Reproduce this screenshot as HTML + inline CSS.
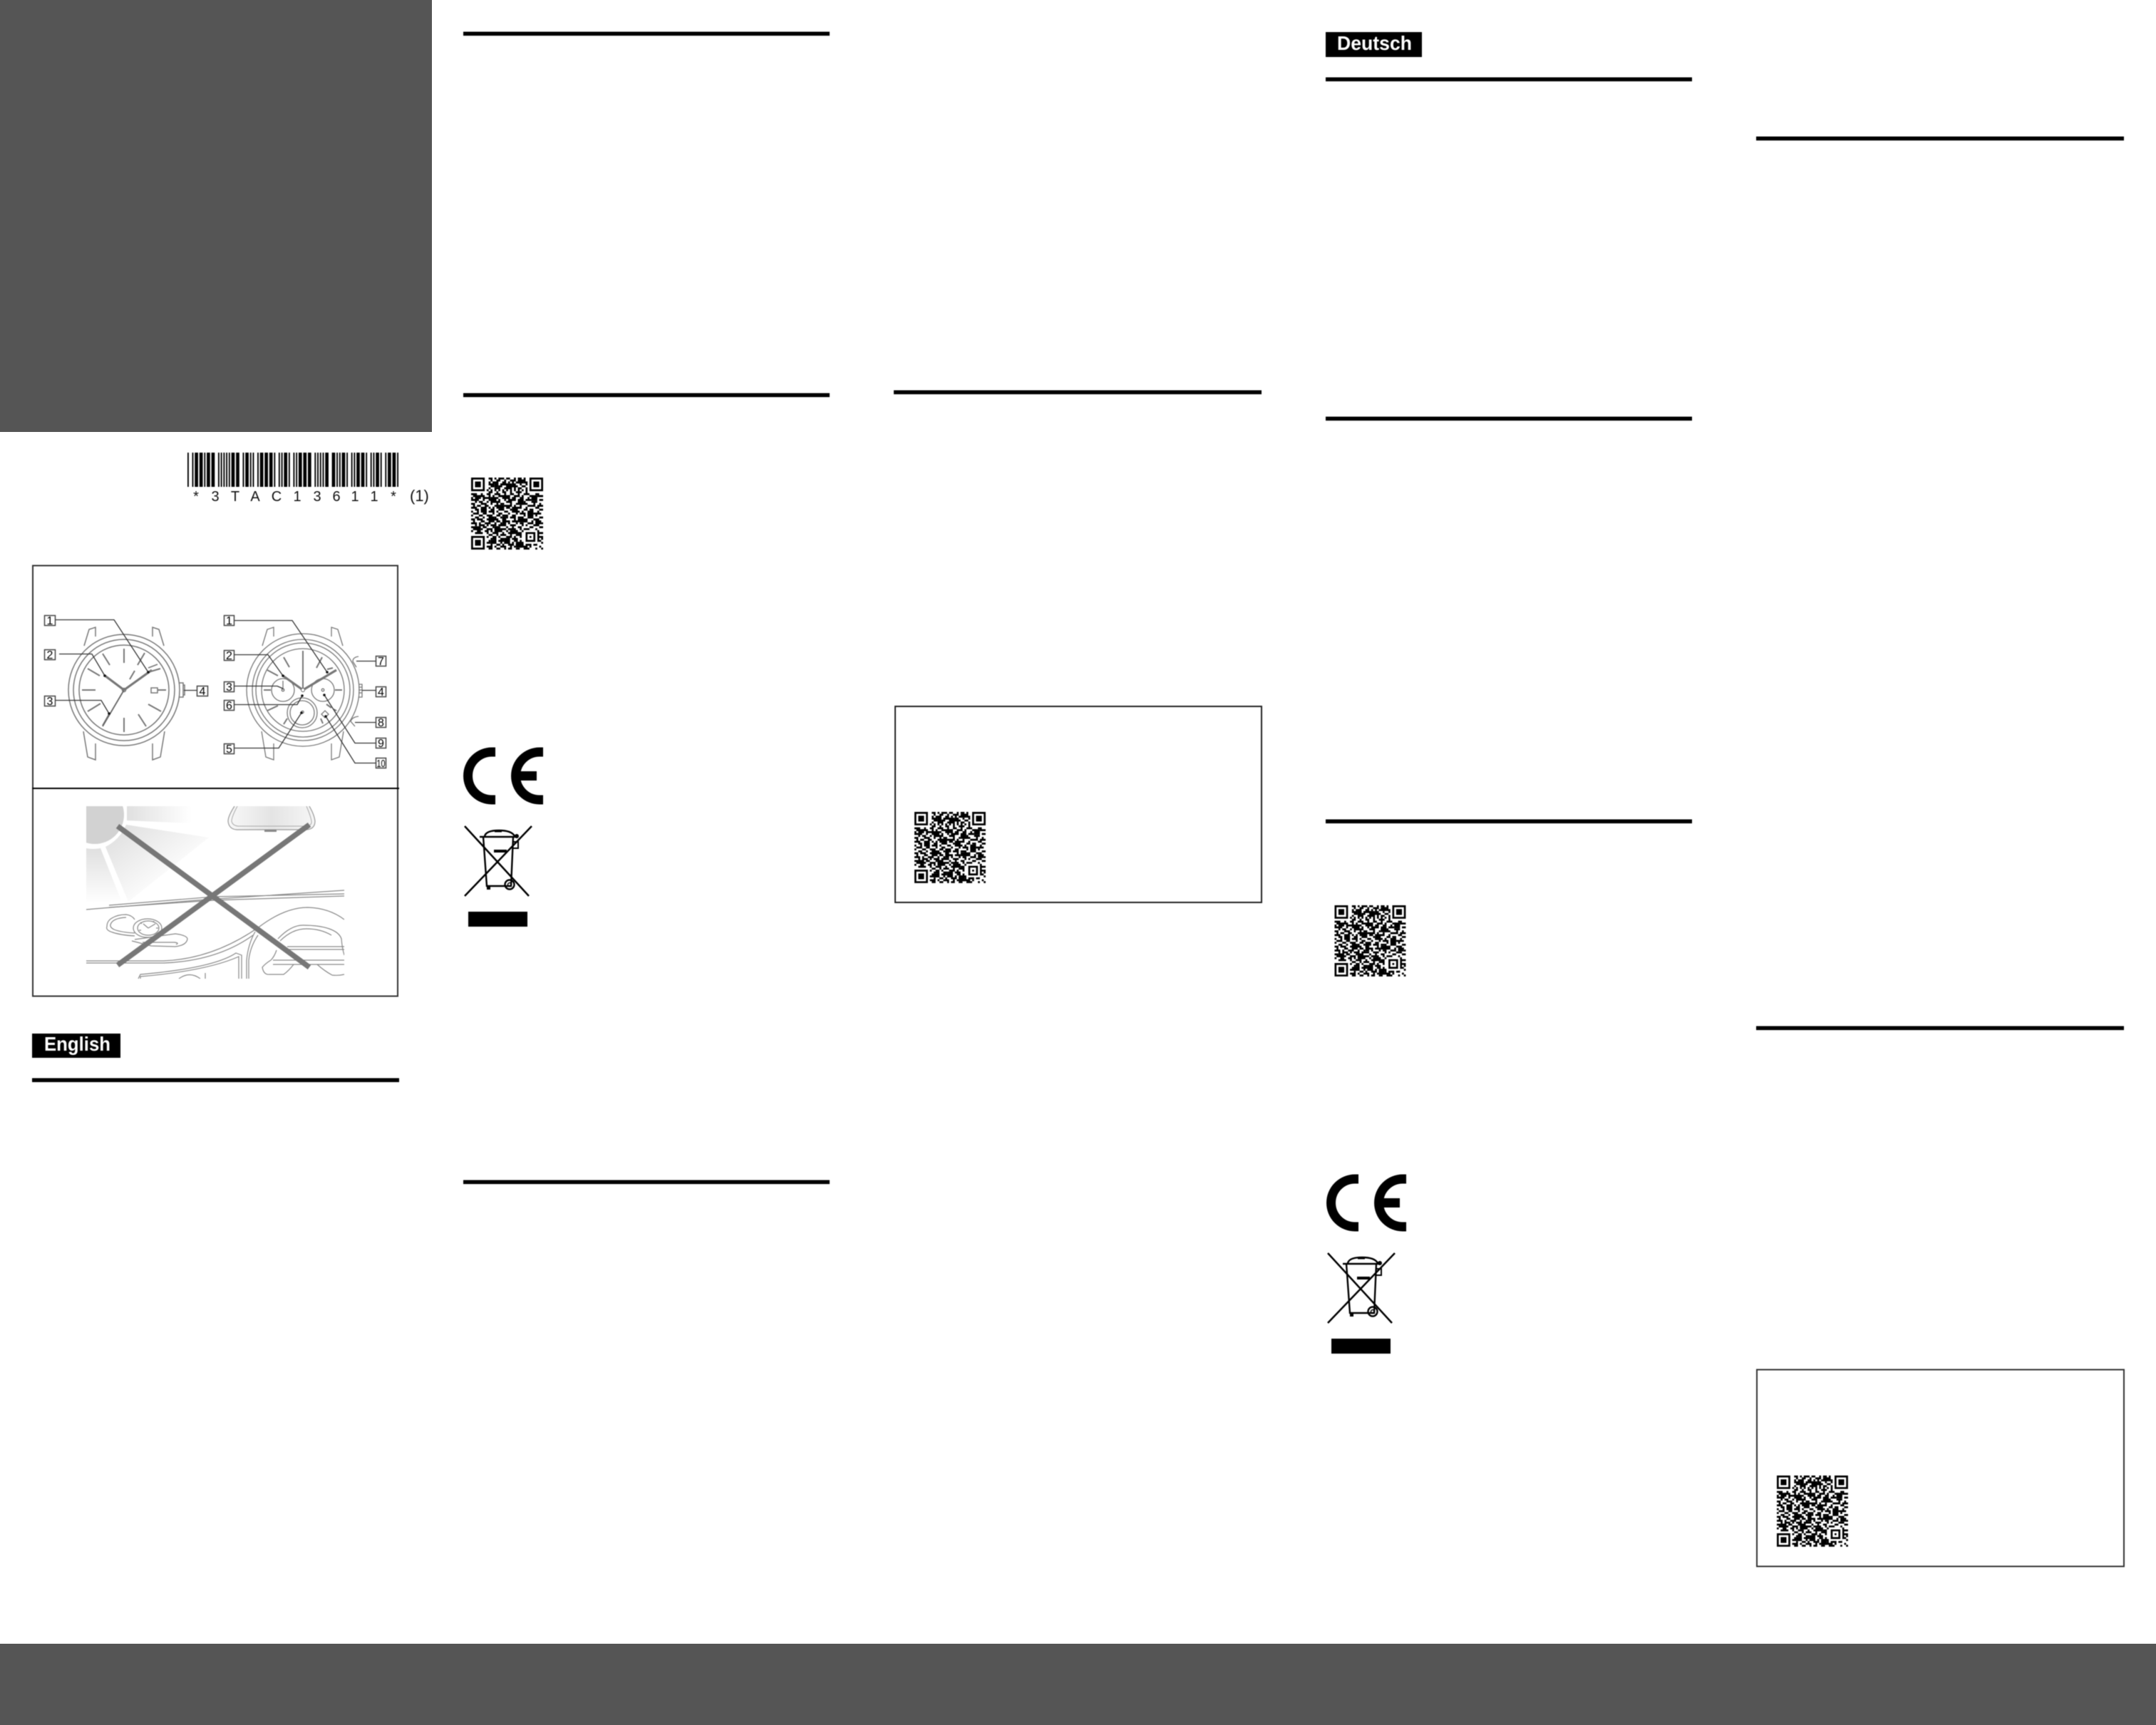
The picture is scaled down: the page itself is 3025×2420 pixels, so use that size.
<!DOCTYPE html>
<html lang="en"><head><meta charset="utf-8"><title>Watch instruction sheet</title>
<style>html,body{margin:0;padding:0;background:#fff}svg{display:block}.soft{filter:blur(.6px)}text{font-family:"Liberation Sans",sans-serif}</style></head>
<body>
<svg xmlns="http://www.w3.org/2000/svg" width="3025" height="2420" viewBox="0 0 3025 2420">
<defs>
<linearGradient id="g1" x1="0" x2="1" y1="0" y2="0"><stop offset="0" stop-color="#e0e0e0"/><stop offset="1" stop-color="#fff"/></linearGradient>
<linearGradient id="g2" x1="0" x2="1" y1="0" y2="1"><stop offset="0" stop-color="#dcdcdc"/><stop offset=".7" stop-color="#fff"/></linearGradient>
<linearGradient id="g3" x1="0" x2="0" y1="0" y2="1"><stop offset="0" stop-color="#e0e0e0"/><stop offset="1" stop-color="#fff"/></linearGradient>
<linearGradient id="g4" x1="0" x2="1" y1="0" y2="0"><stop offset="0" stop-color="#f8f8f8"/><stop offset=".5" stop-color="#e4e4e4"/><stop offset="1" stop-color="#f6f6f6"/></linearGradient>
<g id="qr">
<path fill="none" stroke="#000" stroke-width="1" d="M.5 .5h6v6h-6zM30.5 .5h6v6h-6zM.5 30.5h6v6h-6z"/>
<path d="M2 2h3v3h-3zM32 2h3v3h-3zM2 32h3v3h-3z"/>
<path fill="none" stroke="#000" stroke-width="1.02" d="M9 .5h2M12 .5h1M14 .5h3M18 .5h2M22 .5h1M24 .5h2M27 .5h1
M10 1.5h1M13 1.5h2M17 1.5h1M20 1.5h3M25 1.5h3
M9 2.5h1M11 2.5h3M16 2.5h2M19 2.5h1M21 2.5h1M23 2.5h2M27 2.5h2
M9 3.5h3M13 3.5h1M15 3.5h4M21 3.5h2M25 3.5h1M28 3.5h1
M10 4.5h2M14 4.5h2M18 4.5h1M20 4.5h4M26 4.5h2
M9 5.5h1M12 5.5h3M17 5.5h2M22 5.5h1M24 5.5h2M28 5.5h1
M8 6.5h1M10 6.5h1M12 6.5h1M14 6.5h1M16 6.5h1M18 6.5h1M20 6.5h1M22 6.5h1M24 6.5h1M26 6.5h1M28 6.5h1
M9 7.5h2M13 7.5h1M16 7.5h2M20 7.5h1M23 7.5h3M28 7.5h1
M0 8.5h3M5 8.5h1M8 8.5h2M12 8.5h3M17 8.5h1M20 8.5h2M24 8.5h1M27 8.5h3M33 8.5h2
M1 9.5h2M4 9.5h3M9 9.5h1M11 9.5h1M14 9.5h4M19 9.5h1M22 9.5h3M26 9.5h1M30 9.5h2M34 9.5h3
M0 10.5h1M3 10.5h2M6 10.5h4M13 10.5h1M16 10.5h2M21 10.5h2M25 10.5h2M29 10.5h1M32 10.5h2
M0 11.5h4M6 11.5h1M9 11.5h3M14 11.5h1M17 11.5h1M19 11.5h4M25 11.5h1M28 11.5h3M35 11.5h2
M2 12.5h1M4 12.5h2M8 12.5h1M11 12.5h4M18 12.5h3M24 12.5h2M27 12.5h1M31 12.5h3
M0 13.5h2M5 13.5h3M10 13.5h1M13 13.5h1M15 13.5h2M20 13.5h1M23 13.5h1M26 13.5h3M32 13.5h1M35 13.5h1
M1 14.5h1M3 14.5h2M7 14.5h2M12 14.5h3M17 14.5h4M22 14.5h1M25 14.5h1M29 14.5h4M34 14.5h3
M0 15.5h3M6 15.5h1M9 15.5h1M11 15.5h1M15 15.5h1M18 15.5h2M23 15.5h3M28 15.5h1M33 15.5h2
M2 16.5h2M5 16.5h3M10 16.5h2M14 16.5h3M20 16.5h1M22 16.5h1M27 16.5h2M30 16.5h2M35 16.5h2
M0 17.5h1M3 17.5h1M7 17.5h1M9 17.5h3M13 17.5h1M17 17.5h2M21 17.5h4M26 17.5h1M31 17.5h1M34 17.5h1
M1 18.5h3M6 18.5h2M11 18.5h1M14 18.5h2M19 18.5h1M23 18.5h1M25 18.5h3M29 18.5h2M32 18.5h4
M0 19.5h1M4 19.5h2M8 19.5h3M13 19.5h2M16 19.5h3M21 19.5h2M27 19.5h1M30 19.5h1M33 19.5h1
M2 20.5h2M6 20.5h1M9 20.5h1M12 20.5h1M15 20.5h1M18 20.5h1M20 20.5h3M24 20.5h3M29 20.5h3M35 20.5h2
M0 21.5h2M3 21.5h3M8 21.5h2M11 21.5h3M16 21.5h2M22 21.5h1M26 21.5h1M28 21.5h1M32 21.5h3
M1 22.5h1M5 22.5h2M9 22.5h1M13 22.5h2M17 22.5h3M21 22.5h3M27 22.5h2M31 22.5h1M34 22.5h2
M0 23.5h3M4 23.5h1M7 23.5h3M12 23.5h1M15 23.5h1M19 23.5h1M23 23.5h1M25 23.5h2M29 23.5h3M36 23.5h1
M2 24.5h1M4 24.5h3M8 24.5h1M10 24.5h3M14 24.5h4M20 24.5h3M26 24.5h1M28 24.5h1M32 24.5h3
M0 25.5h2M6 25.5h2M11 25.5h1M13 25.5h1M18 25.5h1M21 25.5h1M24 25.5h2M30 25.5h2M35 25.5h2
M1 26.5h3M5 26.5h1M8 26.5h3M12 26.5h1M15 26.5h3M19 26.5h4M25 26.5h1M27 26.5h3M33 26.5h1
M0 27.5h1M3 27.5h2M7 27.5h2M10 27.5h1M14 27.5h2M18 27.5h1M22 27.5h2M26 27.5h1M30 27.5h1M32 27.5h3
M2 28.5h4M8 28.5h1M11 28.5h3M16 28.5h1M19 28.5h3M24 28.5h2M34 28.5h3
M9 29.5h2M13 29.5h1M15 29.5h3M20 29.5h1M23 29.5h3M34 29.5h1
M8 30.5h1M11 30.5h2M14 30.5h1M18 30.5h3M22 30.5h1M25 30.5h1M34 30.5h3
M10 31.5h3M15 31.5h2M19 31.5h1M21 31.5h3M34 31.5h1M36 31.5h1
M9 32.5h1M12 32.5h1M14 32.5h3M18 32.5h2M22 32.5h2M25 32.5h1M34 32.5h2
M8 33.5h2M11 33.5h2M15 33.5h1M17 33.5h3M21 33.5h1M24 33.5h3M29 33.5h2M33 33.5h1M36 33.5h1
M10 34.5h1M13 34.5h2M16 34.5h1M19 34.5h3M23 34.5h2M26 34.5h1M28 34.5h3M32 34.5h2
M8 35.5h3M12 35.5h1M15 35.5h3M20 35.5h1M22 35.5h1M25 35.5h4M30 35.5h1M35 35.5h1
M9 36.5h2M13 36.5h2M17 36.5h1M19 36.5h2M23 36.5h2M27 36.5h3M33 36.5h1M36 36.5h1"/>
<path d="M12 2h2v3h-2zM18 3h3v3h-3zM24 1h3v2h-3zM2 9h3v2h-3zM10 10h3v3h-3zM17 9h3v2h-3zM24 11h3v3h-3zM31 9h3v3h-3zM5 15h3v3h-3zM13 14h4v2h-4zM21 15h3v3h-3zM29 17h3v3h-3zM9 20h3v3h-3zM16 20h2v4h-2zM24 21h4v2h-4zM33 22h3v2h-3zM2 25h3v2h-3zM12 25h3v3h-3zM20 27h4v2h-4zM10 32h3v2h-3zM17 31h3v3h-3zM23 33h3v3h-3z"/>
<path fill="#fff" d="M27 27h7v7h-7z"/>
<path fill="none" stroke="#000" d="M28.5 28.5h4v4h-4z"/><path d="M30 30h1v1h-1z"/>
</g>
<clipPath id="pic"><rect x="121" y="1131" width="362" height="242"/></clipPath>
</defs>

<!-- solid panels -->
<rect x="0" y="0" width="606" height="606" fill="#555"/>
<rect x="0" y="2306" width="3025" height="114" fill="#555"/>

<g class="soft">
<!-- barcode -->
<line transform="translate(263,659) scale(1.8675,1)" x1="0" y1="0" x2="158.5" y2="0" stroke="#000" stroke-width="48"
 stroke-dasharray="1 2.5 1 1 2.5 1 2.5 1 1 1 2.5 1 2.5 2.5 1 1 1 1 1 1 1 1 1 1 2.5 1 2.5 2.5 1 1 2.5 1 1 1 1 2.5 1 1 2.5 1 2.5 1 2.5 1 1 2.5 1 1 1 1 2.5 1 1 2.5 1 1 1 1 2.5 1 2.5 1 2.5 2.5 1 1 1 1 1 1 1 1 2.5 2.5 2.5 1 1 1 1 1 2.5 1 1 2.5 1 1 1 1 2.5 1 2.5 1 1 2.5 1 1 1 1 2.5 1 1 2.5 1 1 2.5 1 2.5 1 1 100"/>
<g font-size="20" text-anchor="middle" fill="#111">
<text x="275" y="703">*</text><text x="302" y="703">3</text><text x="330" y="703">T</text><text x="358" y="703">A</text><text x="388" y="703">C</text><text x="417" y="703">1</text><text x="445" y="703">3</text><text x="472" y="703">6</text><text x="498" y="703">1</text><text x="525" y="703">1</text><text x="552" y="703">*</text>
</g>
<text x="575" y="703" font-size="22" fill="#111">(1)</text>

<!-- diagram frame -->
<rect x="46" y="793.5" width="512" height="604" fill="none" stroke="#333" stroke-width="2"/>
<line x1="45" y1="1106" x2="560" y2="1106" stroke="#000" stroke-width="2"/>

<!-- left watch -->
<g fill="none" stroke="#777" stroke-width="1.5">
<circle cx="174" cy="968" r="78"/><circle cx="174" cy="968" r="71"/><circle cx="174" cy="968" r="63"/>
<path d="M118 906 L125 883 L134 880 V893M230 906 L223 883 L214 880 V893M117 1026 L123 1062 L134 1066 V1043M231 1026 L225 1062 L214 1066 V1043"/>
<path d="M252 958h5v20h-5M257 961h2v14h-2"/>
<rect x="212" y="965" width="9" height="7"/>
<circle cx="174" cy="968" r="2.5"/>
</g>
<g stroke="#777" stroke-width="2" fill="none">
<path d="M174 910V930M174 1007V1027M115 968H134M221 968H233M193 933L203 916M208 943L225 938M208 988L226 998M194 1002L205 1019M144 1018L153 1002M123 998L141 987M123 938L140 948M144 917L154 933M182 953L189 941"/>
</g>
<path d="M174 968L144 1019" stroke="#666" stroke-width="1.8" fill="none"/>
<path d="M174 968L146 947M174 968L213 940" stroke="#777" stroke-width="3.2" fill="none"/>
<path d="M208 937L221 932" stroke="#777" stroke-width="1.6" fill="none"/>

<!-- right watch -->
<g fill="none" stroke="#777" stroke-width="1.3">
<circle cx="425" cy="968" r="79"/><circle cx="425" cy="968" r="71"/><circle cx="425" cy="968" r="66"/><circle cx="425" cy="968" r="58"/>
<circle cx="397" cy="968" r="16"/><circle cx="453" cy="968" r="16"/>
<circle cx="424" cy="1000" r="21"/><circle cx="424" cy="1000" r="17"/><circle cx="424.5" cy="999" r="1.6"/><circle cx="397" cy="968" r="1.8"/><circle cx="453" cy="968" r="1.8"/>
<path d="M368 906 L375 883 L384 880 V893M481 906 L474 883 L465 880 V893M367 1026 L373 1062 L384 1066 V1043M482 1026 L476 1062 L465 1066 V1043"/>
<path d="M503 960h5v18h-5M503 964h5M503 968h5M503 972h5"/>
<path d="M503 921Q495 922 495 928L500 936M503 1005Q494 1006 492 1012L498 1019"/>
<path d="M451 1002l5-5 5 5-5 5z"/>
<path d="M397 955V968"/>
</g>
<g stroke="#777" stroke-width="2" fill="none"><path d="M398 922L406 936M375 940L390 948M370 968H380M375 997L390 990M398 1016L403 1008M444 937L452 922M470 968H480M458 988L465 993M468 995L472 997M450 1008L453 1015"/></g>
<path d="M425 968V913" stroke="#777" stroke-width="2" fill="none"/>
<path d="M425 968L397 948M425 968L472 940" stroke="#777" stroke-width="3.2" fill="none"/>
<path d="M459 939L467 937" stroke="#777" stroke-width="2" fill="none"/>
<circle cx="425" cy="968" r="2.5" fill="#fff" stroke="#666"/>

<!-- leaders -->
<g fill="none" stroke="#333" stroke-width="1.3">
<path d="M78 869.5H160L208 943M83 917.5H129L147 948M78 982.5H142L153 1001M258 968.5H276"/>
<path d="M328 870.5H410L459 943M328 918.5H376L397 948M328 962.5H389L397 966M328 988.5H417L424 976M328 1049.5H391L423 1000M500 927.5H527M508 968.5H527M498 1013.5H527M527 1042.5H498L455 975M527 1070.5H498L457 1005"/>
</g>
<g fill="#111"><circle cx="208" cy="943" r="1.8"/><circle cx="147" cy="948" r="1.8"/><circle cx="153" cy="1001" r="1.8"/><circle cx="459" cy="943" r="1.8"/><circle cx="397" cy="948" r="1.8"/><circle cx="424" cy="976" r="1.8"/><circle cx="423" cy="1000" r="1.8"/><circle cx="455" cy="975" r="1.8"/><circle cx="457" cy="1005" r="1.8"/></g>
<g fill="#fff" stroke="#444" stroke-width="1.5">
<rect x="62.5" y="863.5" width="15" height="14"/><rect x="62.5" y="911.5" width="15" height="14"/><rect x="62.5" y="976.5" width="15" height="14"/><rect x="276.5" y="962.5" width="15" height="14"/>
<rect x="314.5" y="863.5" width="14" height="14"/><rect x="314.5" y="912.5" width="14" height="14"/><rect x="314.5" y="956.5" width="14" height="14"/><rect x="314.5" y="982.5" width="14" height="14"/><rect x="314.5" y="1043.5" width="14" height="14"/>
<rect x="527.5" y="920.5" width="14" height="14"/><rect x="527.5" y="963.5" width="14" height="14"/><rect x="527.5" y="1006.5" width="14" height="14"/><rect x="527.5" y="1035.5" width="14" height="14"/><rect x="527.5" y="1063.5" width="14" height="14"/>
</g>
<g font-size="16" text-anchor="middle" fill="#000">
<text x="70" y="876">1</text><text x="70" y="924">2</text><text x="70" y="989">3</text><text x="284" y="975">4</text>
<text x="321.5" y="876">1</text><text x="321.5" y="925">2</text><text x="321.5" y="969">3</text><text x="321.5" y="995">6</text><text x="321.5" y="1056">5</text>
<text x="534.5" y="933">7</text><text x="534.5" y="976">4</text><text x="534.5" y="1019">8</text><text x="534.5" y="1048">9</text><text x="534.5" y="1076" font-size="15" textLength="12" lengthAdjust="spacingAndGlyphs">10</text>
</g>

<!-- sun / car picture -->
<g clip-path="url(#pic)">
<path d="M178 1131V1151L268 1155V1131Z" fill="url(#g1)"/>
<path d="M177 1157L293 1175L180 1265L148 1188Q168 1178 177 1157Z" fill="url(#g2)"/>
<path d="M121 1190Q130 1192 141 1190L170 1263L121 1267Z" fill="url(#g3)"/>
<circle cx="133" cy="1143" r="41" fill="#d2d2d2"/>
<path d="M329 1131Q320 1145 320 1152Q321 1163 332 1164H430Q442 1163 442 1152Q441 1143 434 1131" fill="url(#g4)" stroke="#999" stroke-width="1.2"/>
<path d="M333 1131Q325 1146 325 1152Q326 1158 334 1159H430Q438 1158 437 1152Q436 1145 430 1131" fill="none" stroke="#aaa" stroke-width="1"/>
<rect x="371" y="1164" width="17" height="3" fill="#888"/>
<g fill="none" stroke="#888" stroke-width="1.2">
<path d="M121 1276L276 1263L483 1249"/>
<path d="M153 1270L300 1258L483 1254"/>
<path d="M153 1273L300 1263L483 1257"/>
<path d="M121 1348H230Q300 1345 364 1300Q400 1273 432 1273Q462 1274 483 1290"/>
<path d="M121 1351H230Q305 1348 355 1312"/>
<path d="M194 1373L197 1367Q300 1358 331 1337L339 1340V1373"/>
<path d="M197 1373V1370Q290 1362 335 1342V1373"/>
<path d="M251 1373Q266 1362 281 1373M288 1373V1365"/>
<path d="M346 1373V1347Q348 1325 358 1307M349 1373V1347Q351 1328 362 1312"/>
<path d="M390 1317Q408 1298 425 1298Q448 1298 462 1303Q476 1308 479 1317Q480 1330 483 1340M393 1320Q410 1303 430 1303Q450 1303 465 1312"/>
<path d="M388 1333Q385 1342 380 1347Q372 1352 368 1357Q370 1368 378 1367L398 1367Q405 1362 412 1353"/>
<path d="M403 1328H483M403 1332H483M383 1347H483M383 1353H483"/>
<path d="M445 1353Q455 1362 466 1368Q475 1369 483 1367"/>
<path d="M189 1313Q170 1312 158 1308Q148 1305 150 1300Q150 1292 157 1288Q165 1283 177 1283Q185 1284 189 1290M189 1309Q170 1308 160 1304Q154 1301 155 1297Q158 1288 177 1287"/>
<ellipse cx="207" cy="1302" rx="20" ry="13"/><ellipse cx="208" cy="1302" rx="15" ry="10"/>
<path d="M189 1318L246 1310Q262 1312 263 1317Q262 1326 246 1328L212 1327L185 1320M200 1322H245Q252 1323 247 1325"/>
<path d="M208 1302L201 1296M208 1302L218 1296M197 1294l2 2M216 1292l-1 2M222 1302h-3M195 1305h3"/>
</g>
</g>
<path d="M165 1159L434 1357M434 1157L165 1354" stroke="#777" stroke-width="7.5" fill="none"/>

<!-- language tabs -->
<rect x="45" y="1450" width="124" height="34" fill="#000"/>
<text x="62" y="1474" font-size="28" font-weight="700" fill="#fff" textLength="93" lengthAdjust="spacingAndGlyphs">English</text>
<rect x="1860" y="45" width="135" height="35" fill="#000"/>
<text x="1876" y="70" font-size="28" font-weight="700" fill="#fff" textLength="105" lengthAdjust="spacingAndGlyphs">Deutsch</text>

<!-- rules -->
<g fill="#000">
<rect x="45" y="1512.5" width="515" height="5.6"/>
<rect x="650" y="44.5" width="514" height="5.6"/>
<rect x="650" y="551.5" width="514" height="5.6"/>
<rect x="650" y="1655.5" width="514" height="5.6"/>
<rect x="1254" y="547.5" width="516" height="5.6"/>
<rect x="1860" y="108.5" width="514" height="5.6"/>
<rect x="1860" y="584.5" width="514" height="5.6"/>
<rect x="1860" y="1149.5" width="514" height="5.6"/>
<rect x="2464" y="191.5" width="516" height="5.6"/>
<rect x="2464" y="1439.5" width="516" height="5.6"/>
</g>

<!-- framed boxes -->
<rect x="1256" y="991" width="514" height="275" fill="none" stroke="#222" stroke-width="2"/>
<rect x="2465" y="1921.5" width="515" height="276" fill="none" stroke="#333" stroke-width="2"/>

<!-- QR codes -->
<use href="#qr" transform="translate(661,670) scale(2.73)"/>
<use href="#qr" transform="translate(1283,1139) scale(2.70)"/>
<use href="#qr" transform="translate(1872.5,1270) scale(2.70)"/>
<use href="#qr" transform="translate(2493,2070) scale(2.70)"/>

<!-- CE + WEEE, column 2 -->
<g>
<path d="M695 1055H690A33.5 33.5 0 0 0 690 1122H695M762 1055H757A33.5 33.5 0 0 0 757 1122H762" fill="none" stroke="#000" stroke-width="13"/>
<rect x="722" y="1082" width="31" height="13" fill="#000"/>
<g fill="none" stroke="#000">
<path d="M652 1159L742 1257M746 1159L652 1257" stroke-width="2.5"/>
<path d="M678 1174L683 1243H717L720 1174" stroke-width="2.4"/>
<path d="M673 1174H725M680 1173Q682 1165 700 1165Q718 1165 722 1173" stroke-width="2.4"/>
<path d="M694 1166h10" stroke-width="3"/>
<path d="M720 1181H727V1190H719" stroke-width="2"/>
<circle cx="715" cy="1241" r="6.5" stroke-width="2.4"/><circle cx="715" cy="1241" r="2.5" stroke-width="1.5"/>
</g>
<circle cx="725" cy="1173" r="3" fill="#000"/>
<rect x="683" y="1243" width="5" height="5" fill="#000"/>
<rect x="693" y="1192" width="18" height="4" fill="#000"/>
<rect x="657" y="1279" width="83" height="21" fill="#000"/>
</g>

<!-- CE + WEEE, column 4 -->
<g transform="translate(1211,599)">
<path d="M695 1055H690A33.5 33.5 0 0 0 690 1122H695M762 1055H757A33.5 33.5 0 0 0 757 1122H762" fill="none" stroke="#000" stroke-width="13"/>
<rect x="722" y="1082" width="31" height="13" fill="#000"/>
<g fill="none" stroke="#000">
<path d="M652 1159L742 1257M746 1159L652 1257" stroke-width="2.5"/>
<path d="M678 1174L683 1243H717L720 1174" stroke-width="2.4"/>
<path d="M673 1174H725M680 1173Q682 1165 700 1165Q718 1165 722 1173" stroke-width="2.4"/>
<path d="M694 1166h10" stroke-width="3"/>
<path d="M720 1181H727V1190H719" stroke-width="2"/>
<circle cx="715" cy="1241" r="6.5" stroke-width="2.4"/><circle cx="715" cy="1241" r="2.5" stroke-width="1.5"/>
</g>
<circle cx="725" cy="1173" r="3" fill="#000"/>
<rect x="683" y="1243" width="5" height="5" fill="#000"/>
<rect x="693" y="1192" width="18" height="4" fill="#000"/>
<rect x="657" y="1279" width="83" height="21" fill="#000"/>
</g>
</g>
</svg>
</body></html>
